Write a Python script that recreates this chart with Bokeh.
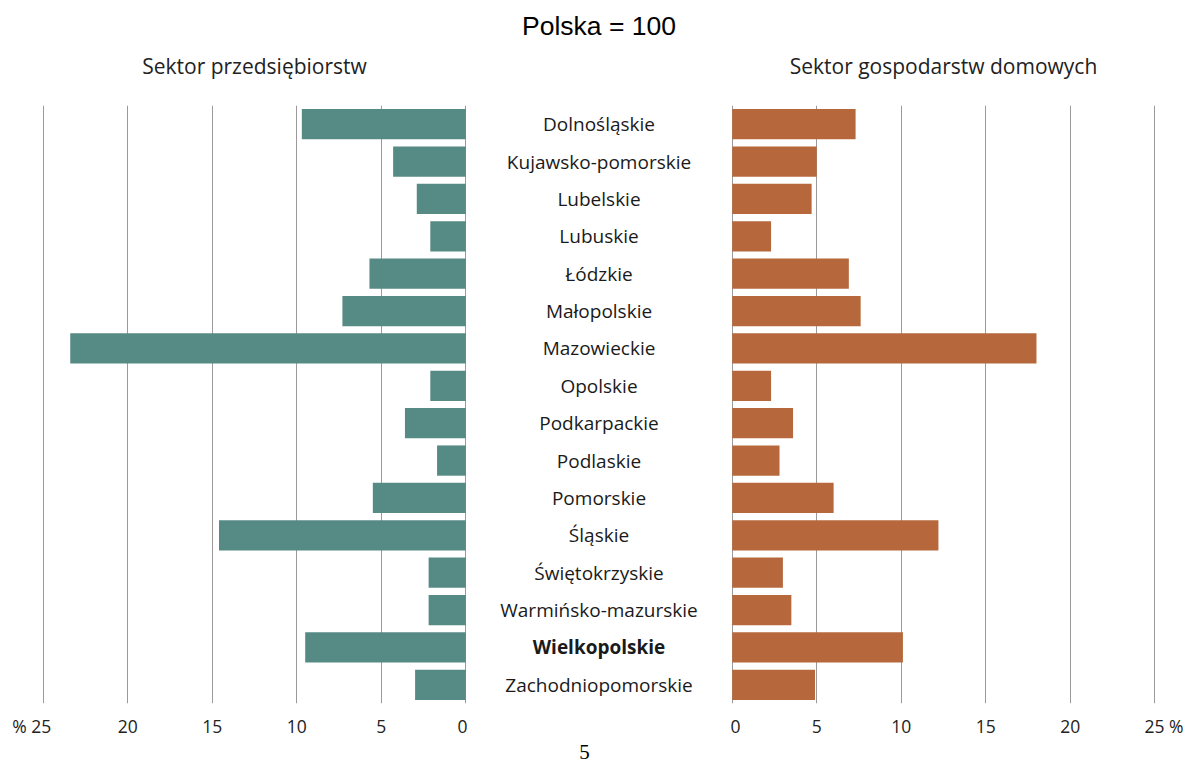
from bokeh.plotting import figure
from bokeh.layouts import row
from bokeh.models import Range1d, FactorRange, FixedTicker, ColumnDataSource, LinearAxis
from bokeh.core.properties import value
from bokeh.embed import file_html
from bokeh.resources import INLINE

regions = ["Dolnośląskie", "Kujawsko-pomorskie", "Lubelskie", "Lubuskie", "Łódzkie",
           "Małopolskie", "Mazowieckie", "Opolskie", "Podkarpackie", "Podlaskie",
           "Pomorskie", "Śląskie", "Świętokrzyskie", "Warmińsko-mazurskie",
           "Wielkopolskie", "Zachodniopomorskie"]
enterprise = [9.7, 4.3, 2.9, 2.1, 5.7, 7.3, 23.4, 2.1, 3.6, 1.7, 5.5, 14.6, 2.2, 2.2, 9.5, 3.0]
households = [7.3, 5.0, 4.7, 2.3, 6.9, 7.6, 18.0, 2.3, 3.6, 2.8, 6.0, 12.2, 3.0, 3.5, 10.1, 4.9]
ticks = [0, 5, 10, 15, 20, 25]
title_main = "Polska = 100"
title_left = "Sektor przedsiębiorstw"
title_right = "Sektor gospodarstw domowych"
page_number = "5"

TEAL = "#568A84"
ORANGE = "#B6683C"
GRID = "#9a9a9a"
FONT = "Open Sans"

H = 762
TOP = 105
BOTTOM = 59
yr = FactorRange(*regions[::-1])


def top_label(p, text, font, size, standoff, color="#222222"):
    ax = LinearAxis(ticker=FixedTicker(ticks=[]), axis_label=text)
    ax.axis_line_color = None
    ax.major_tick_line_color = None
    ax.minor_tick_line_color = None
    ax.major_tick_out = 0
    ax.major_label_standoff = 0
    ax.axis_label_standoff = standoff
    ax.axis_label_text_font = font
    ax.axis_label_text_font_size = size
    ax.axis_label_text_font_style = "normal"
    ax.axis_label_text_color = color
    p.add_layout(ax, "above")


def panel(xr, width, mbl, mbr, vals, color, title, overrides):
    p = figure(width=width, height=H, x_range=xr, y_range=yr,
               output_backend="svg", toolbar_location=None,
               min_border_left=mbl, min_border_right=mbr,
               min_border_top=TOP, min_border_bottom=BOTTOM)
    src = ColumnDataSource(dict(region=regions, v=vals))
    p.hbar(y="region", left=0, right="v", height=0.81, source=src,
           fill_color=color, line_color=None)
    p.outline_line_color = None
    p.yaxis.visible = False
    p.ygrid.grid_line_color = None
    p.xaxis.ticker = FixedTicker(ticks=ticks)
    p.xaxis.major_label_overrides = overrides
    p.xgrid.ticker = FixedTicker(ticks=ticks)
    p.xgrid.grid_line_color = GRID
    p.xgrid.grid_line_width = 1
    p.xgrid.level = "underlay"
    p.xaxis.axis_line_color = None
    p.xaxis.major_tick_line_color = None
    p.xaxis.minor_tick_line_color = None
    p.xaxis.major_tick_out = 0
    p.xaxis.major_label_standoff = 10
    p.xaxis.major_label_text_font = FONT
    p.xaxis.major_label_text_font_size = "17.5px"
    p.xaxis.major_label_text_color = "#222222"
    top_label(p, title, FONT, "21px", 26)
    p.background_fill_color = "white"
    p.border_fill_color = "white"
    return p


nb = "\u00a0"
left_over = {t: str(t) for t in ticks}
left_over[25] = "% 25" + nb * 5
right_over = {t: str(t) for t in ticks}
right_over[25] = nb * 4 + "25 %"

left = panel(Range1d(25.1, -0.1), 467, 41, 0, enterprise, TEAL, title_left, left_over)
right = panel(Range1d(-0.1, 25.1), 457, 0, 31, households, ORANGE, title_right, right_over)

center = figure(width=263, height=H, x_range=Range1d(0, 1), y_range=yr,
                output_backend="svg", toolbar_location=None,
                min_border_left=0, min_border_right=0,
                min_border_top=TOP, min_border_bottom=BOTTOM)
styles = ["bold" if r == "Wielkopolskie" else "normal" for r in regions]
csrc = ColumnDataSource(dict(region=regions, x=[0.5] * len(regions), st=styles))
center.text(x="x", y="region", text="region", source=csrc,
            text_align="center", text_baseline="middle",
            text_font=value(FONT), text_font_size="19px", text_color="#1a1a1a",
            text_font_style="st")
center.axis.visible = False
center.grid.visible = False
center.outline_line_color = None
top_label(center, title_main, "Liberation Sans", "26.5px", 65, "#000000")

pn = LinearAxis(ticker=FixedTicker(ticks=[0.445]), major_label_overrides={0.445: page_number})
pn.axis_line_color = None
pn.major_tick_line_color = None
pn.minor_tick_line_color = None
pn.major_tick_out = 0
pn.major_label_standoff = 41
pn.major_label_text_font = "'Liberation Serif', 'DejaVu Serif', serif"
pn.major_label_text_font_size = "21px"
pn.major_label_text_color = "#000000"
center.add_layout(pn, "below")

layout = row(left, center, right, spacing=0)
open("out.html", "w").write(file_html(layout, INLINE))
